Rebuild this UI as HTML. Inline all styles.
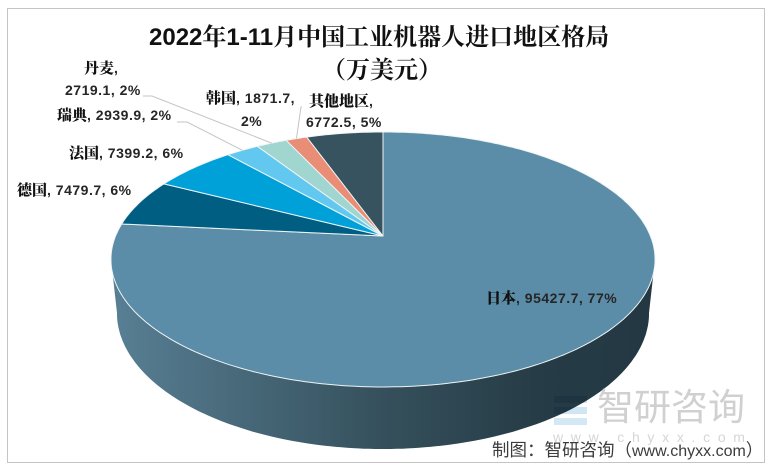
<!DOCTYPE html>
<html lang="zh">
<head>
<meta charset="utf-8">
<style>
html,body{margin:0;padding:0;background:#fff;}
#stage{position:relative;width:775px;height:469px;overflow:hidden;background:#fff;font-family:"Liberation Sans","Noto Sans CJK SC",sans-serif;filter:blur(0.35px);}
#frame{position:absolute;left:7px;top:8px;width:756px;height:453px;border:1px solid #c4c4c4;box-sizing:content-box;}
svg{position:absolute;left:0;top:0;}
.t{position:absolute;white-space:nowrap;color:#000;}
.title{font-family:"Liberation Sans","Noto Serif CJK SC",serif;font-weight:bold;font-size:24px;line-height:30px;color:#111;}
.lab{font-weight:bold;font-size:14px;line-height:20px;color:#262626;letter-spacing:.5px;}
.lab b{font-family:"Noto Serif CJK SC",serif;font-size:15px;color:#111;letter-spacing:0;}
</style>
</head>
<body>
<div id="stage">
<div id="frame"></div>
<svg id="chart" width="775" height="469" viewBox="0 0 775 469">
<defs>
<linearGradient id="sideGrad" gradientUnits="userSpaceOnUse" x1="112" y1="0" x2="655" y2="0">
<stop offset="0" stop-color="#587f94"/>
<stop offset="0.5" stop-color="#35505c"/>
<stop offset="0.8" stop-color="#253b45"/>
<stop offset="1" stop-color="#233842"/>
</linearGradient>
</defs>
<g id="sides"></g>
<g id="tops"></g>
<g id="leaders"></g>
<g style="mix-blend-mode:multiply">
<rect x="554" y="396" width="33" height="7" fill="#d3e2ef"/>
<rect x="554" y="407" width="33" height="7" fill="#cfe6f5"/>
<rect x="554" y="418" width="33" height="7" fill="#d3e8f5"/>
</g>
</svg>
<div class="t title" style="left:149px;top:23px">2022年1-11月中国工业机器人进口地区格局</div>
<div class="t title" style="left:322px;top:56px">（万美元）</div>

<div class="t lab" style="left:84px;top:58px"><b>丹麦</b>,</div>
<div class="t lab" style="left:65px;top:80px">2719.1, 2%</div>
<div class="t lab" style="left:57px;top:105px"><b>瑞典</b>, 2939.9, 2%</div>
<div class="t lab" style="left:69px;top:143px"><b>法国</b>, 7399.2, 6%</div>
<div class="t lab" style="left:17px;top:180px"><b>德国</b>, 7479.7, 6%</div>
<div class="t lab" style="left:206px;top:88px"><b>韩国</b>, 1871.7,</div>
<div class="t lab" style="left:241px;top:111px">2%</div>
<div class="t lab" style="left:309px;top:91px"><b>其他地区</b>,</div>
<div class="t lab" style="left:306px;top:112px">6772.5, 5%</div>
<div class="t lab" style="left:486px;top:288px"><b>日本</b>, 95427.7, 77%</div>

<div class="t" style="left:597px;top:385px;font-size:37px;line-height:46px;color:#d0d0d0;">智研咨询</div>
<div class="t" style="left:553px;top:428px;font-size:14px;line-height:18px;letter-spacing:7.7px;color:#d6d6d6;">www.chyxx.com</div>
<div class="t" style="left:492px;top:440px;font-size:17.5px;line-height:21px;color:#3c3c3c;">制图：智研咨询（<span style="font-size:16px">www.chyxx.com</span>）</div>
</div>
<script>
var categories = ["日本","德国","法国","瑞典","丹麦","韩国","其他地区"];
var seriesValues = [95427.7,7479.7,7399.2,2939.9,2719.1,1871.7,6772.5];
var sliceColors = ["#5b8da8","#005e83","#00a0d9","#62c8ef","#a0d5d0","#ea8d76","#37535f"];

var svgNS = "http://www.w3.org/2000/svg";
var PERSPECTIVE = -0.184;
var APEX_X = 383, APEX_Y = 236;
var TOP_RX = 267.4, TOP_RY = 123.2;
var BOT_RX = 261.5, BOT_RY = 131.4, BOT_Y = 288;
var total = seriesValues.reduce(function(a,b){return a+b;},0);

function angleScale(v){ return v/total*360; }
function rim(deg,rx,ry,y0){
  var r = deg*Math.PI/180, x = Math.sin(r), y = -Math.cos(r), d = 1+PERSPECTIVE*y;
  return [APEX_X+rx*x/d, y0+ry*y/d];
}
function topRim(deg){ return rim(deg,TOP_RX,TOP_RY,APEX_Y); }
function botRim(deg){ return rim(deg,BOT_RX,BOT_RY,BOT_Y); }
function fmt(p){ return p[0].toFixed(1)+" "+p[1].toFixed(1); }
function arcPts(fn,a,b){
  var out = [], n = Math.max(2,Math.ceil(Math.abs(b-a))), i;
  for(i=0;i<=n;i++){ out.push(fmt(fn(a+(b-a)*i/n))); }
  return out;
}

var tangent = Math.acos(PERSPECTIVE)*180/Math.PI;
var visStart = tangent, visEnd = 360-tangent;
var sidesG = document.getElementById("sides");
var topsG = document.getElementById("tops");
var leadersG = document.getElementById("leaders");
var mids = [];
var start = 0;

seriesValues.forEach(function(v,i){
  var sweep = angleScale(v), end = start+sweep;
  mids.push(start+sweep/2);
  var a = Math.max(start,visStart), b = Math.min(end,visEnd);
  if(b>a){
    var side = document.createElementNS(svgNS,"path");
    side.setAttribute("d","M"+arcPts(topRim,a,b).join("L")+"L"+arcPts(botRim,b,a).join("L")+"Z");
    side.setAttribute("fill","url(#sideGrad)");
    
    
    sidesG.appendChild(side);
  }
  var top = document.createElementNS(svgNS,"path");
  top.setAttribute("d","M"+APEX_X+" "+APEX_Y+"L"+arcPts(topRim,start,end).join("L")+"Z");
  top.setAttribute("fill",sliceColors[i]);
  top.setAttribute("stroke","#eef4f6");
  top.setAttribute("stroke-width","1");
  top.setAttribute("stroke-linejoin","round");
  
  
  var tip = document.createElementNS(svgNS,"title");
  tip.textContent = categories[i]+", "+v;
  top.appendChild(tip);
  topsG.appendChild(top);
  start = end;
});

function leader(from,knee,deg){
  var p = topRim(deg);
  var l = document.createElementNS(svgNS,"polyline");
  l.setAttribute("points",from+" "+knee+" "+p[0].toFixed(1)+","+p[1].toFixed(1));
  l.setAttribute("fill","none");
  l.setAttribute("stroke","#c2c6c6");
  l.setAttribute("stroke-width","1");
  
  
  leadersG.appendChild(l);
}
leader("143,96","152,96",mids[4]);
leader("177,122","187,122",mids[3]);
leader("302,107","301,107",mids[5]);
</script>
</body>
</html>
